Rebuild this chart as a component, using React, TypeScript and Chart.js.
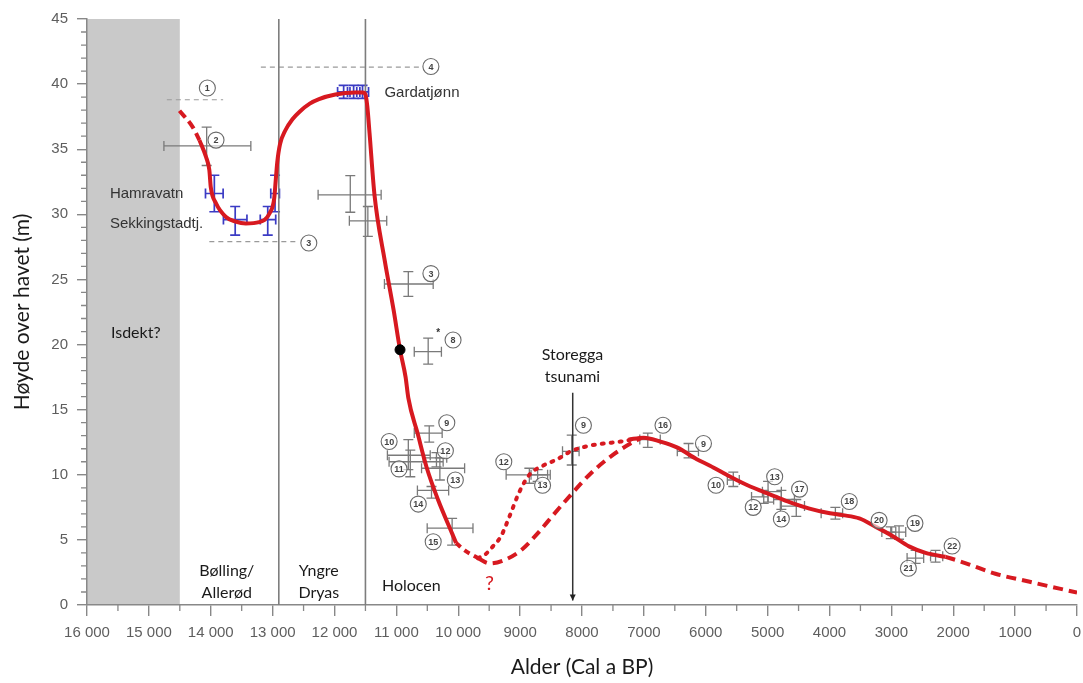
import React, { useEffect, useRef } from "react";
import { Chart, registerables } from "chart.js";

Chart.register(...registerables);

// ---------- axis ticks ----------
const xTickValues = [16000, 15000, 14000, 13000, 12000, 11000, 10000, 9000, 8000, 7000, 6000, 5000, 4000, 3000, 2000, 1000, 0];
const xTickLabels = ["16 000", "15 000", "14 000", "13 000", "12 000", "11 000", "10 000", "9000", "8000", "7000", "6000", "5000", "4000", "3000", "2000", "1000", "0"];
const yTickValues = [0, 5, 10, 15, 20, 25, 30, 35, 40, 45];
const yTickLabels = ["0", "5", "10", "15", "20", "25", "30", "35", "40", "45"];

// ---------- periods ----------
const iceFrom = 16000;
const iceTo = 14500;
const periodBoundaries = [12900, 11500];
const storeggaAge = 8150;
const storeggaTop = 16.3;
const storeggaBottom = 0.35;

// ---------- relative sea level curve ----------
const earlyDashX = [14505, 14291, 14183];
const earlyDashY = [37.96, 36.7, 35.7];

const mainX = [14183, 14076, 14023, 14000, 13915, 13754, 13600, 13432, 13219, 13047, 12975, 12950, 12925, 12880, 12800, 12680, 12560, 12400, 12250, 11986, 11664, 11540, 11500, 11470, 11434, 11354, 11190, 11045, 10941, 10851, 10807, 10658, 10513, 10325, 10100, 10035];
const mainY = [35.7, 34.4, 33.4, 32.1, 30.85, 29.8, 29.45, 29.3, 29.4, 30.1, 31.2, 32.6, 34.0, 35.4, 36.4, 37.3, 37.9, 38.5, 38.85, 39.2, 39.35, 39.35, 39.2, 38.3, 36.25, 31.5, 26.5, 22.66, 19.6, 17.5, 15.9, 13.2, 10.6, 8.06, 5.5, 4.76];

const lowDashX = [10035, 9896, 9682];
const lowDashY = [4.76, 4.2, 3.6];

const dashedBranchX = [9682, 9494, 9253, 8986, 8717, 8449, 8154, 7860, 7538, 7217, 7050];
const dashedBranchY = [3.6, 3.2, 3.46, 4.2, 5.5, 7.0, 8.6, 10.1, 11.4, 12.4, 12.8];

const dottedBranchX = [9682, 9560, 9440, 9307, 9172, 9011, 8850, 8610, 8395, 8182, 7913, 7645, 7377, 7150];
const dottedBranchY = [3.6, 3.9, 4.5, 5.3, 6.8, 8.7, 10.0, 10.75, 11.2, 11.8, 12.2, 12.4, 12.55, 12.75];

const lateSolidX = [7250, 7003, 6735, 6466, 6145, 5931, 5662, 5394, 5127, 4859, 4590, 4323, 4055, 3786, 3518, 3251, 2983, 2715, 2447, 2125];
const lateSolidY = [12.7, 12.85, 12.55, 12.1, 11.2, 10.7, 10.0, 9.35, 8.8, 8.3, 7.8, 7.4, 7.1, 6.9, 6.65, 6.0, 5.3, 4.5, 4.0, 3.7];

const lateDashX = [2125, 1857, 1318, 782, 0];
const lateDashY = [3.7, 3.3, 2.4, 1.8, 0.95];

const markerX = [10941];
const markerY = [19.6];

// ---------- dated samples (grey) ----------
const grayX = [14066, 11745, 11461, 10807, 10486, 10469, 10807, 10775, 10352, 10297, 10432, 10099, 8851, 8717, 8166, 6937, 6278, 5555, 5063, 4993, 4778, 4537, 3905, 3010, 2876, 2608, 2286];
const grayY = [35.25, 31.5, 29.5, 24.65, 19.45, 13.2, 11.5, 11.0, 11.3, 10.5, 8.8, 5.9, 10.0, 10.0, 11.8, 12.7, 11.8, 9.6, 8.3, 8.7, 8.1, 7.6, 7.05, 5.6, 5.6, 3.6, 3.75];
const grayXOld = [14757, 12265, 11760, 11193, 10711, 10711, 11145, 11118, 10566, 10593, 10660, 10502, 9226, 8824, 8315, 7066, 6460, 5651, 5260, 5084, 4903, 4794, 4135, 3154, 2995, 2746, 2367];
const grayXYoung = [13352, 11246, 11156, 10405, 10272, 10260, 10453, 10244, 10186, 9897, 10155, 9762, 8556, 8513, 8047, 6735, 6118, 5458, 4995, 4778, 4566, 4404, 3788, 2929, 2768, 2478, 2170];
const grayYLow = [33.75, 30.16, 28.3, 23.7, 18.5, 12.5, 10.4, 9.85, 10.6, 9.6, 8.2, 4.6, 9.35, 9.5, 10.75, 12.1, 11.3, 9.1, 7.8, 7.9, 7.35, 6.8, 6.6, 5.1, 5.05, 3.2, 3.3];
const grayYHigh = [36.7, 32.97, 30.6, 25.6, 20.5, 13.75, 12.7, 11.9, 11.7, 11.3, 9.1, 6.65, 10.5, 10.4, 13.05, 13.2, 12.4, 10.2, 8.8, 9.5, 8.8, 8.1, 7.5, 6.0, 6.07, 4.2, 4.2];

// ---------- lake isolation samples (blue) ----------
const blueX = [13942, 12961, 13605, 13079, 11852, 11691, 11547];
const blueY = [31.6, 31.6, 29.6, 29.6, 39.4, 39.4, 39.4];
const blueXOld = [14085, 13030, 13795, 13200, 11950, 11790, 11640];
const blueXYoung = [13800, 12890, 13415, 12950, 11750, 11590, 11450];
const blueYLow = [30.2, 30.2, 28.4, 28.4, 38.9, 38.9, 38.9];
const blueYHigh = [33.0, 33.0, 30.6, 30.6, 39.9, 39.9, 39.9];

// ---------- upper / lower limits (dashed grey) ----------
const limitY = [38.8, 27.9, 41.3];
const limitFrom = [14710, 14023, 13190];
const limitTo = [13800, 12592, 10614];

// ---------- circled reference numbers ----------
const refNum = ["1", "2", "3", "4", "3", "8", "9", "10", "11", "12", "13", "14", "15", "12", "13", "9", "16", "9", "10", "12", "13", "17", "14", "18", "20", "19", "21", "22"];
const refX = [14055, 13915, 12415, 10442, 10442, 10084, 10185, 11117, 10957, 10208, 10047, 10646, 10405, 9264, 8637, 7977, 6691, 6037, 5834, 5233, 4886, 4484, 4778, 3680, 3198, 2619, 2725, 2018];
const refY = [39.7, 35.7, 27.8, 41.35, 25.45, 20.35, 14.0, 12.55, 10.45, 11.85, 9.6, 7.75, 4.86, 11.0, 9.2, 13.8, 13.8, 12.4, 9.2, 7.5, 9.85, 8.9, 6.6, 7.95, 6.5, 6.27, 2.82, 4.53];

// ---------- text annotations ----------
const periodText = ["Isdekt?", "Bølling/", "Allerød", "Yngre", "Dryas", "Holocen", "Storegga", "tsunami"];
const periodTextX = [15212, 13741, 13741, 12254, 12254, 10759, 8154, 8154];
const periodTextY = [20.9, 2.63, 0.9, 2.63, 0.9, 1.46, 19.2, 17.49];

const lakeText = ["Hamravatn", "Sekkingstadtj.", "Gardatjønn"];
const lakeTextX = [15630, 15630, 11193];
const lakeTextY = [31.57, 29.3, 39.3];

const questionText = "?";
const questionX = 9494;
const questionY = 1.67;

const asteriskX = 10325;
const asteriskY = 20.9;

const pts = (xs: number[], ys: number[]) => xs.map((x, i) => ({ x, y: ys[i] }));

const drawPlugin = {
  id: "drawExtras",
  beforeDraw(chart: any) {
    const { ctx, scales } = chart;
    const px = (v: number) => scales.x.getPixelForValue(v);
    const py = (v: number) => scales.y.getPixelForValue(v);
    ctx.save();
    const b0 = px(iceFrom);
    const b1 = px(iceTo);
    ctx.fillStyle = "#c9c9c9";
    ctx.fillRect(Math.min(b0, b1), py(45), Math.abs(b1 - b0), py(0) - py(45));
    ctx.restore();
  },
  beforeDatasetsDraw(chart: any) {
    const { ctx, chartArea: a, scales } = chart;
    const px = (v: number) => scales.x.getPixelForValue(v);
    const py = (v: number) => scales.y.getPixelForValue(v);
    ctx.save();
    // minor ticks
    ctx.strokeStyle = "#888";
    ctx.lineWidth = 1.3;
    ctx.beginPath();
    for (let v = 1; v < 45; v++) {
      if (v % 5 === 0) continue;
      ctx.moveTo(a.left - 6, py(v));
      ctx.lineTo(a.left, py(v));
    }
    for (let v = 500; v < 16000; v += 1000) {
      ctx.moveTo(px(v), a.bottom);
      ctx.lineTo(px(v), a.bottom + 6);
    }
    ctx.stroke();

    const bars = (X: number[], Y: number[], XO: number[], XY: number[], YL: number[], YH: number[], color: string, w: number, cap: number) => {
      ctx.strokeStyle = color;
      ctx.lineWidth = w;
      for (let i = 0; i < X.length; i++) {
        const cx = px(X[i]);
        const cy = py(Y[i]);
        const l = px(XO[i]);
        const r = px(XY[i]);
        const t = py(YH[i]);
        const b = py(YL[i]);
        ctx.beginPath();
        ctx.moveTo(l, cy); ctx.lineTo(r, cy);
        ctx.moveTo(cx, t); ctx.lineTo(cx, b);
        ctx.moveTo(l, cy - cap); ctx.lineTo(l, cy + cap);
        ctx.moveTo(r, cy - cap); ctx.lineTo(r, cy + cap);
        ctx.moveTo(cx - cap, t); ctx.lineTo(cx + cap, t);
        ctx.moveTo(cx - cap, b); ctx.lineTo(cx + cap, b);
        ctx.stroke();
      }
    };
    bars(grayX, grayY, grayXOld, grayXYoung, grayYLow, grayYHigh, "#7a7a7a", 1.3, 5);
    bars(blueX, blueY, blueXOld, blueXYoung, blueYLow, blueYHigh, "#3b3bc4", 1.7, 5);
    ctx.restore();
  },
  afterDatasetsDraw(chart: any) {
    const { ctx, scales } = chart;
    const px = (v: number) => scales.x.getPixelForValue(v);
    const py = (v: number) => scales.y.getPixelForValue(v);
    ctx.save();
    // Storegga arrow head
    const ax = px(storeggaAge);
    const ay = py(storeggaBottom);
    ctx.fillStyle = "#222";
    ctx.beginPath();
    ctx.moveTo(ax - 3, ay - 6);
    ctx.lineTo(ax + 3, ay - 6);
    ctx.lineTo(ax, ay);
    ctx.closePath();
    ctx.fill();

    // circled numbers
    for (let i = 0; i < refNum.length; i++) {
      const cx = px(refX[i]);
      const cy = py(refY[i]);
      ctx.beginPath();
      ctx.arc(cx, cy, 8, 0, Math.PI * 2);
      ctx.fillStyle = "rgba(255,255,255,0.6)";
      ctx.fill();
      ctx.strokeStyle = "#6a6a6a";
      ctx.lineWidth = 1.1;
      ctx.stroke();
      ctx.fillStyle = "#444";
      ctx.font = "bold 9px 'Liberation Sans', Arial, sans-serif";
      ctx.textAlign = "center";
      ctx.textBaseline = "middle";
      ctx.fillText(refNum[i], cx, cy + 0.5);
    }
    ctx.fillStyle = "#333";
    ctx.font = "bold 10px 'Liberation Sans', Arial, sans-serif";
    ctx.fillText("*", px(asteriskX), py(asteriskY));

    // period texts
    ctx.fillStyle = "#1a1a1a";
    ctx.font = "16px Lato, 'Open Sans', sans-serif";
    ctx.textAlign = "center";
    ctx.textBaseline = "middle";
    for (let i = 0; i < periodText.length; i++) {
      ctx.fillText(periodText[i], px(periodTextX[i]), py(periodTextY[i]));
    }
    // lake names
    ctx.fillStyle = "#333";
    ctx.font = "15px 'Liberation Sans', Arial, sans-serif";
    ctx.textAlign = "left";
    for (let i = 0; i < lakeText.length; i++) {
      ctx.fillText(lakeText[i], px(lakeTextX[i]), py(lakeTextY[i]));
    }
    // question mark
    ctx.fillStyle = "#d71920";
    ctx.font = "20px Lato, 'Open Sans', sans-serif";
    ctx.textAlign = "center";
    ctx.fillText(questionText, px(questionX), py(questionY));
    ctx.restore();
  },
};

export default function App() {
  const ref = useRef<HTMLCanvasElement>(null);
  useEffect(() => {
    const red = "#d71920";
    const curve = { borderColor: red, borderWidth: 4, pointRadius: 0, cubicInterpolationMode: "monotone" as const, fill: false };
    const datasets: any[] = [
      { data: pts(markerX, markerY), showLine: false, pointRadius: 5, pointBackgroundColor: "#000", pointBorderColor: "#000", borderColor: "#000" },
      { ...curve, data: pts(earlyDashX, earlyDashY), borderDash: [9, 5] },
      { ...curve, data: pts(mainX, mainY) },
      { ...curve, data: pts(lowDashX, lowDashY), borderDash: [6, 5] },
      { ...curve, data: pts(dashedBranchX, dashedBranchY), borderDash: [10, 6] },
      { ...curve, data: pts(dottedBranchX, dottedBranchY), borderDash: [2, 7], borderCapStyle: "round", borderWidth: 4 },
      { ...curve, data: pts(lateSolidX, lateSolidY) },
      { ...curve, data: pts(lateDashX, lateDashY), borderDash: [10, 6] },
      { data: [{ x: storeggaAge, y: storeggaTop }, { x: storeggaAge, y: storeggaBottom }], borderColor: "#333", borderWidth: 1.5, pointRadius: 0 },
      ...periodBoundaries.map((b) => ({ data: [{ x: b, y: 0 }, { x: b, y: 45 }], borderColor: "#7d7d7d", borderWidth: 1.6, pointRadius: 0 })),
      ...limitY.map((yv, i) => ({ data: [{ x: limitFrom[i], y: yv }, { x: limitTo[i], y: yv }], borderColor: "#9a9a9a", borderWidth: 1.2, borderDash: [5, 4], pointRadius: 0 })),
    ];
    const chart = new Chart(ref.current as HTMLCanvasElement, {
      type: "line",
      data: { datasets },
      options: {
        animation: false,
        responsive: true,
        maintainAspectRatio: false,
        layout: { padding: { top: 19, right: 1, left: 0, bottom: 0 } },
        plugins: { legend: { display: false }, tooltip: { enabled: false } },
        elements: { line: { tension: 0 } },
        scales: {
          x: {
            type: "linear",
            reverse: true,
            min: 0,
            max: 16000,
            ticks: {
              stepSize: 1000,
              autoSkip: false,
              maxRotation: 0,
              padding: 8,
              color: "#5e5e5e",
              font: { family: "'Liberation Sans', Arial, sans-serif", size: 15 },
              callback: (v: any) => {
                const i = xTickValues.indexOf(Number(v));
                return i >= 0 ? xTickLabels[i] : "";
              },
            },
            grid: { drawOnChartArea: false, drawTicks: true, tickLength: 11, color: "#888", lineWidth: 1.4 },
            border: { color: "#888", width: 1.5 },
            title: { display: true, text: "Alder (Cal a BP)", color: "#1a1a1a", font: { family: "Lato, 'Open Sans', sans-serif", size: 21 }, padding: { top: 0, bottom: 3 } },
            afterFit: (s: any) => {
              s.height = 78;
              s.paddingLeft = 0;
              s.paddingRight = 0;
            },
          } as any,
          y: {
            type: "linear",
            min: 0,
            max: 45,
            ticks: {
              stepSize: 5,
              padding: 9,
              color: "#5e5e5e",
              font: { family: "'Liberation Sans', Arial, sans-serif", size: 15 },
              callback: (v: any) => {
                const i = yTickValues.indexOf(Number(v));
                return i >= 0 ? yTickLabels[i] : "";
              },
            },
            grid: { drawOnChartArea: false, drawTicks: true, tickLength: 10, color: "#888", lineWidth: 1.4 },
            border: { color: "#888", width: 1.5 },
            title: { display: true, text: "Høyde over havet (m)", color: "#1a1a1a", font: { family: "Lato, 'Open Sans', sans-serif", size: 21 }, padding: { top: 10, bottom: 0 } },
            afterFit: (s: any) => {
              s.width = 87;
              s.paddingTop = 0;
              s.paddingBottom = 0;
            },
          } as any,
        },
      },
      plugins: [drawPlugin],
    });
    return () => chart.destroy();
  }, []);
  return (
    <div style={{ position: "fixed", left: 0, top: 0, width: 1083, height: 683, background: "#fff" }}>
      <canvas ref={ref} />
    </div>
  );
}
